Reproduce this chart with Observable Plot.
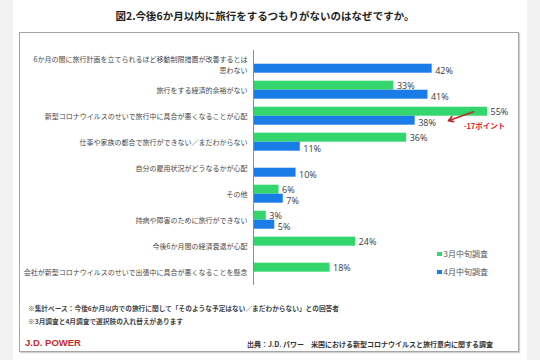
<!DOCTYPE html>
<html><head><meta charset="utf-8">
<script src="https://cdn.jsdelivr.net/npm/d3@7"></script>
<script src="https://cdn.jsdelivr.net/npm/@observablehq/plot@0.6"></script>
<style>
body{margin:0;width:540px;height:360px;background:#f2f2f2;position:relative;overflow:hidden;font-family:"Noto Sans CJK JP",sans-serif;}
#panel{position:absolute;left:13px;top:0;width:514px;height:360px;background:#fff;}
#frame{position:absolute;left:19px;top:32px;width:498px;height:318px;border:1px solid #a6a6a6;box-shadow:1px 1px 1px #d0d0d0;}
#chart{position:absolute;left:0;top:0;}
#title{position:absolute;left:0;width:530px;top:9px;text-align:center;font-size:10.5px;font-weight:bold;color:#1f1f1f;line-height:14px;white-space:nowrap;}
.note{position:absolute;left:28px;font-size:6.7px;font-weight:bold;color:#444;white-space:nowrap;line-height:9px;}
#brand{position:absolute;left:25px;top:337px;font-family:"Liberation Sans",Arial,sans-serif;font-size:9.5px;font-weight:bold;color:#c8282e;line-height:12px;}
#source{position:absolute;right:47px;top:339px;font-size:7px;font-weight:bold;color:#333;white-space:nowrap;line-height:10px;}
.leg{position:absolute;left:437px;font-size:8px;color:#555;white-space:nowrap;line-height:10px;}
.leg i{display:inline-block;width:4.5px;height:4.5px;margin-right:2px;vertical-align:1px;}
</style></head>
<body>
<div id="panel"></div>
<div id="frame"></div>
<div id="title">図2.今後6か月以内に旅行をするつもりがないのはなぜですか。</div>
<div id="chart"></div>
<div id="legend"></div>
<div class="note" style="top:304px">※集計ベース：今後6か月以内での旅行に関して「そのような予定はない／まだわからない」との回答者</div>
<div class="note" style="top:317px">※3月調査と4月調査で選択肢の入れ替えがあります</div>
<div id="brand">J.D. POWER</div>
<div id="source">出典：J.D. パワー　米国における新型コロナウイルスと旅行意向に関する調査</div>
<script>
const categories = [
  "6か月の間に旅行計画を立てられるほど移動制限措置が改善するとは\n思わない",
  "旅行をする経済的余裕がない",
  "新型コロナウイルスのせいで旅行中に具合が悪くなることが心配",
  "仕事や家族の都合で旅行ができない／まだわからない",
  "自分の雇用状況がどうなるかが心配",
  "その他",
  "持病や障害のために旅行ができない",
  "今後6か月間の経済衰退が心配",
  "会社が新型コロナウイルスのせいで出張中に具合が悪くなることを懸念"
];
const series = ["3月中旬調査", "4月中旬調査"];
const march = [null, 33, 55, 36, null, 6, 3, 24, 18];
const april = [42, 41, 38, 11, 10, 7, 5, null, null];
const colors = ["#33d66c", "#1a7ce6"];

// annotation: change for the coronavirus item
const annotation = [{category: categories[2], from: 51.7, to: 45.8, labelX: 49.4,
  text: "-" + (march[2] - april[2]) + "ポイント"}];

const rows = [];
categories.forEach((c, i) => {
  [march[i], april[i]].forEach((v, j) => {
    if (v != null) rows.push({category: c, series: series[j], value: v});
  });
});

const labelStyle = {x: "value", y: "series", fy: "category", text: d => d.value + "%",
  dx: 3, textAnchor: "start", fontSize: 9, fill: "#3a3a3a", fontFamily: "Open Sans"};

const chart = Plot.plot({
  width: 540, height: 360,
  marginLeft: 253, marginRight: 53, marginTop: 48.3, marginBottom: 73.7,
  style: {background: "transparent", overflow: "visible", fontFamily: "'Noto Sans CJK JP', sans-serif"},
  x: {domain: [0, 55], axis: null},
  y: {domain: series, padding: 0, axis: null},
  fy: {domain: categories, paddingInner: 0.281, paddingOuter: 0.14, axis: null},
  color: {domain: series, range: colors},
  marks: [
    Plot.barX(rows, {x: "value", y: "series", fy: "category", fill: "series"}),
    Plot.ruleX([0], {stroke: "#8a8a8a", insetTop: -3.8, insetBottom: -3.8}),
    Plot.text(rows.filter(d => d.series === series[0]), {...labelStyle, dy: 0.2}),
    Plot.text(rows.filter(d => d.series === series[1]), {...labelStyle, dy: 2.4}),
    Plot.text(categories, {fy: d => d, text: d => d, frameAnchor: "left", textAnchor: "end",
      dx: -6, fontSize: 7, lineHeight: 1.55, fill: "#484848"}),
    Plot.arrow(annotation, {x1: "from", x2: "to", y1: () => series[0], y2: () => series[1], fy: "category",
      stroke: "#c0282d", strokeWidth: 1.6, headLength: 5}),
    Plot.text(annotation, {x: "labelX", y: () => series[1], fy: "category", text: "text", dy: 5.5,
      textAnchor: "start", fontSize: 7.5, fontWeight: "bold", fill: "#e0262d"})
  ]
});
document.getElementById("chart").appendChild(chart);

const legend = document.getElementById("legend");
const legTops = [249, 267];
series.forEach((s, i) => {
  const d = document.createElement("div");
  d.className = "leg";
  d.style.top = legTops[i] + "px";
  d.innerHTML = `<i style="background:${colors[i]}"></i>${s}`;
  legend.appendChild(d);
});
</script>
</body></html>
